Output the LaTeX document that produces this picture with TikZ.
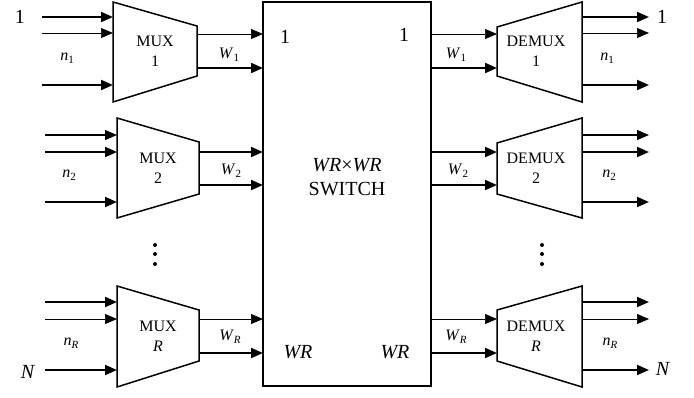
\documentclass[tikz,border=0pt]{standalone}
\usepackage{fontspec}
\setmainfont{Liberation Serif}
\usetikzlibrary{arrows.meta}
\newcommand\lbsub[2]{\textit{#1}\raisebox{-0.35ex}{\fontsize{11}{11}\selectfont #2}}
\tikzset{
  box/.style={line width=1.5pt, line join=miter},
  thk/.style={line width=2pt, -{Triangle[length=12pt,width=10pt]}},
  thn/.style={line width=0.7pt, -{Triangle[length=12pt,width=10pt]}},
  mid/.style={line width=1.3pt, -{Triangle[length=12pt,width=10pt]}},
  txt/.style={inner sep=0pt, font=\fontsize{16}{20}\selectfont, align=center},
  big/.style={inner sep=0pt, font=\fontsize{20}{24}\selectfont, align=center},
  sml/.style={inner sep=0pt, font=\fontsize{16}{18}\selectfont},
  dot/.style={fill, circle, inner sep=0pt, minimum size=4pt}
}
\begin{document}
\begin{tikzpicture}[x=1pt,y=-1pt]
\useasboundingbox (0,0) rectangle (694,397);
% switch
\node[box, draw, minimum width=168pt, minimum height=384pt, inner sep=0pt] (sw) at (347,194) {};
\node[big] (swt) at (347,177) {\textit{WR}×\textit{WR}\\SWITCH};
\node[big] (s1l) at (285,37) {1};
\node[big] (s1r) at (404,35) {1};
\node[big] (sRl) at (298,352) {\textit{WR}};
\node[big] (sRr) at (395,352) {\textit{WR}};

% MUX shapes
\draw[box] (113,2) -- (197,26) -- (197,76) -- (113,102) -- cycle;
\draw[box] (117,118) -- (199,142) -- (199,194) -- (117,218) -- cycle;
\draw[box] (117,286) -- (199,310) -- (199,361) -- (117,387) -- cycle;
\node[txt] (m1) at (155,51) {MUX\\1};
\node[txt] (m2) at (158,168) {MUX\\2};
\node[txt] (mR) at (158,336) {MUX\\\textit{R}};

% DEMUX shapes
\draw[box] (497,27) -- (582,2) -- (582,102) -- (497,76) -- cycle;
\draw[box] (497,143) -- (582,118) -- (582,218) -- (497,194) -- cycle;
\draw[box] (497,310) -- (582,286) -- (582,387) -- (497,361) -- cycle;
\node[txt] (d1) at (536,51) {DEMUX\\1};
\node[txt] (d2) at (536,168) {DEMUX\\2};
\node[txt] (dR) at (536,336) {DEMUX\\\textit{R}};

% port coordinates
\foreach \y/\n in {17/a,33/b,85/c}{
  \coordinate (i1\n) at (42,\y); \coordinate (I1\n) at (113,\y);
  \coordinate (o1\n) at (582,\y); \coordinate (O1\n) at (649,\y);}
\foreach \y/\n in {135/a,152/b,202/c}{
  \coordinate (i2\n) at (45,\y); \coordinate (I2\n) at (117,\y);
  \coordinate (o2\n) at (582,\y); \coordinate (O2\n) at (649,\y);}
\foreach \y/\n in {302/a,319/b,370/c}{
  \coordinate (iR\n) at (45,\y); \coordinate (IR\n) at (117,\y);
  \coordinate (oR\n) at (582,\y); \coordinate (OR\n) at (649,\y);}
\foreach \y/\n in {34/1a,68/1b,152/2a,185/2b,319/Ra,353/Rb}{
  \coordinate (ml\n) at (199,\y); \coordinate (sl\n) at (263,\y);
  \coordinate (sr\n) at (431,\y); \coordinate (dl\n) at (497,\y);}
\coordinate (ml1a) at (197,34); \coordinate (ml1b) at (197,68);

% mux inputs
\draw[thk] (i1a) -- (I1a); \draw[thn] (i1b) -- (I1b); \draw[thk] (i1c) -- (I1c);
\draw[mid] (i2a) -- (I2a); \draw[thk] (i2b) -- (I2b); \draw[thk] (i2c) -- (I2c);
\draw[thk] (iRa) -- (IRa); \draw[thn] (iRb) -- (IRb); \draw[thk] (iRc) -- (IRc);
% mux outputs to switch
\draw[thn] (ml1a) -- (sl1a); \draw[thk] (ml1b) -- (sl1b);
\draw[thk] (ml2a) -- (sl2a); \draw[thk] (ml2b) -- (sl2b);
\draw[thn] (mlRa) -- (slRa); \draw[thk] (mlRb) -- (slRb);
% switch to demux
\draw[thn] (sr1a) -- (dl1a); \draw[thk] (sr1b) -- (dl1b);
\draw[thk] (sr2a) -- (dl2a); \draw[thk] (sr2b) -- (dl2b);
\draw[thn] (srRa) -- (dlRa); \draw[thk] (srRb) -- (dlRb);
% demux outputs
\draw[thk] (o1a) -- (O1a); \draw[thn] (o1b) -- (O1b); \draw[thk] (o1c) -- (O1c);
\draw[mid] (o2a) -- (O2a); \draw[thk] (o2b) -- (O2b); \draw[thk] (o2c) -- (O2c);
\draw[thk] (oRa) -- (ORa); \draw[thn] (oRb) -- (ORb); \draw[thk] (oRc) -- (ORc);

% labels
\node[big] (l1) at (20,17) {1};
\node[big] (lN) at (28,372) {\textit{N}};
\node[big] (r1) at (662,17) {1};
\node[big] (rN) at (663,369) {\textit{N}};
\node[sml] (n1l) at (67,58) {\lbsub{n}{1}};
\node[sml] (n2l) at (69,175) {\lbsub{n}{2}};
\node[sml] (nRl) at (71,343) {\lbsub{n}{\textit{R}}};
\node[sml] (n1r) at (607,58) {\lbsub{n}{1}};
\node[sml] (n2r) at (609,175) {\lbsub{n}{2}};
\node[sml] (nRr) at (610,343) {\lbsub{n}{\textit{R}}};
\node[sml] (w1l) at (229,55) {\lbsub{W}{1}};
\node[sml] (w2l) at (231,171) {\lbsub{W}{2}};
\node[sml] (wRl) at (230,337) {\lbsub{W}{\textit{R}}};
\node[sml] (w1r) at (456,55) {\lbsub{W}{1}};
\node[sml] (w2r) at (458,171) {\lbsub{W}{2}};
\node[sml] (wRr) at (456,337) {\lbsub{W}{\textit{R}}};

% dots
\foreach \y [count=\k] in {245,254,264}{
  \node[dot] (dl\k) at (155,\y) {};
  \node[dot] (dr\k) at (542,\y) {};}
\end{tikzpicture}
\end{document}
